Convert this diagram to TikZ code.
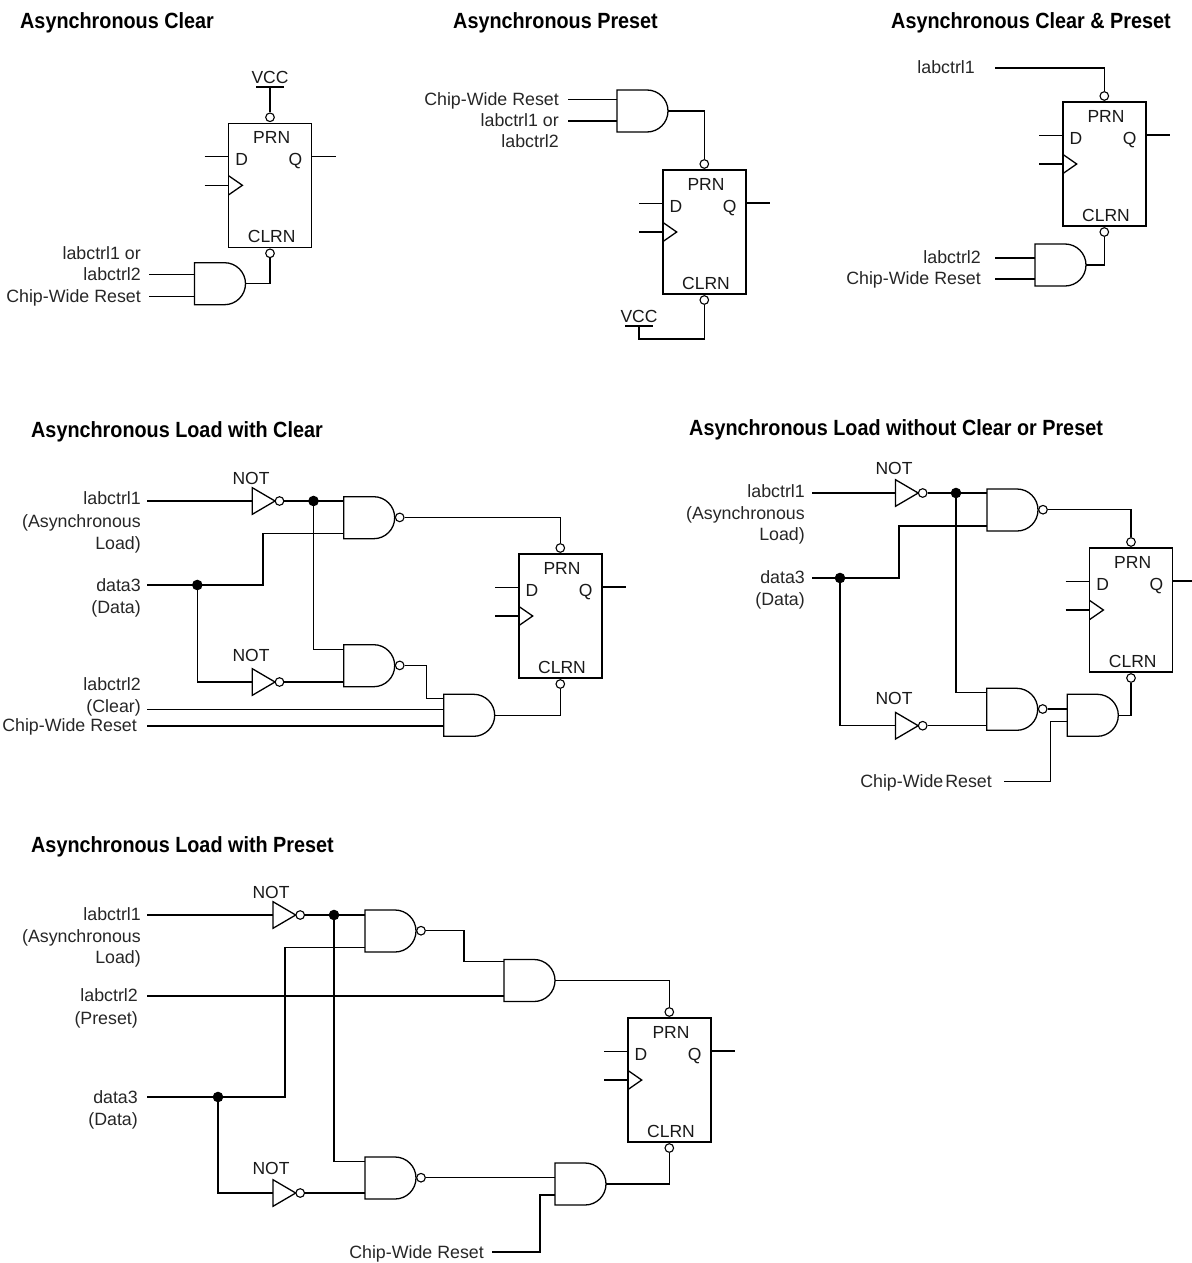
\documentclass[tikz,border=0pt]{standalone}
\usepackage{fontspec}
\setmainfont{Liberation Sans}
\newfontfamily\ttlfont[FakeStretch=0.9]{Liberation Sans}
\tikzset{
  wire/.style={draw=black,line width=1.3pt,line join=miter},
  bub/.style={circle,draw=black,fill=white,line width=1.1pt,minimum size=8.6pt,inner sep=0pt},
  jdot/.style={circle,fill=black,minimum size=10.6pt,inner sep=0pt},
  lab/.style={anchor=east,inner sep=0pt,yshift=-1.5pt,font=\fontsize{17.8}{20}\selectfont,text height=12pt,text depth=3.5pt,text=black!85},
  cen/.style={inner sep=0pt,font=\fontsize{17.5}{20}\selectfont,text height=12pt,text depth=0pt,text=black!90},
  ttl/.style={anchor=west,inner sep=0pt,font=\ttlfont\bfseries\fontsize{22}{26}\selectfont},
  andgate/.pic={
    \draw[wire] (0,0) -- (30,0) .. controls (41.6,0) and (51,9.4) .. (51,21)
       .. controls (51,32.6) and (41.6,42) .. (30,42) -- (0,42) -- cycle;
    \coordinate (-out) at (51,21);
  },
  nandgate/.pic={
    \draw[wire] (0,0) -- (30,0) .. controls (41.6,0) and (51,9.4) .. (51,21)
       .. controls (51,32.6) and (41.6,42) .. (30,42) -- (0,42) -- cycle;
    \node[bub] (-b) at (56,20.7) {};
  },
  notgate/.pic={
    \draw[wire] (0,-13.3) -- (22.7,0) -- (0,13.3) -- cycle;
    \node[bub] (-b) at (27.2,0) {};
    \coordinate (-in) at (0,0);
  },
  dff/.pic={
    \draw[wire] (0,0) rectangle (83,124);
    \node[bub] (-pb) at (41.3,-6) {};
    \node[bub] (-cb) at (41.3,130) {};
    \node[cen] (-prn) at (43,14) {PRN};
    \node[cen] (-d) at (13,36.3) {D};
    \node[cen] (-q) at (66.7,36.3) {Q};
    \node[cen] (-clrn) at (43,113) {CLRN};
    \coordinate (-dfree) at (-24,33.5);
    \coordinate (-d0) at (0,33.5);
    \coordinate (-kfree) at (-24,62);
    \coordinate (-k0) at (0,62);
    \coordinate (-qfree) at (107,33);
    \coordinate (-q0) at (83,33);
    \draw[wire] (-dfree) -- (-d0);
    \draw[wire] (-kfree) -- (-k0);
    \draw[wire] (-q0) -- (-qfree);
    \draw[wire] (0,52.5) -- (13.7,62) -- (0,71.5);
  },
}
\begin{document}
\begin{tikzpicture}[x=1pt,y=-1pt]
\useasboundingbox (0,0) rectangle (1191,1263);
% ---------- titles
\node[ttl] (t1) at (20,23) {Asynchronous Clear};
\node[ttl] (t2) at (453,23) {Asynchronous Preset};
\node[ttl] (t3) at (891,23) {Asynchronous Clear \& Preset};
\node[ttl] (t4) at (31,431.5) {Asynchronous Load with Clear};
\node[ttl] (t5) at (689,429.5) {Asynchronous Load without Clear or Preset};
\node[ttl] (t6) at (31,846.5) {Asynchronous Load with Preset};

% ---------- panel 1
\pic (a) at (228.7,123.3) {dff};
\pic (ag) at (194.5,262.7) {andgate};
\node[cen] (avcc) at (270,77) {VCC};
\coordinate (avl) at (256,87); \coordinate (avr) at (284,87); \coordinate (avm) at (270,87);
\draw[wire] (avl) -- (avr);
\draw[wire] (avm) -- (a-pb.north);
\draw[wire] (ag-out) -| (a-cb.south);
\node[lab] (al1) at (141,254) {labctrl1 or};
\node[lab] (al2) at (141,275) {labctrl2};
\node[lab] (al3) at (141,296.5) {Chip-Wide Reset};
\coordinate (ai1) at (149,274.7); \coordinate (ai1e) at (194.5,274.7);
\coordinate (ai2) at (149,296.3); \coordinate (ai2e) at (194.5,296.3);
\draw[wire] (ai1) -- (ai1e);
\draw[wire] (ai2) -- (ai2e);

% ---------- panel 2
\pic (b) at (663,170) {dff};
\pic (bg) at (617,90) {andgate};
\node[lab] (bl1) at (559,99.5) {Chip-Wide Reset};
\node[lab] (bl2) at (559,120.5) {labctrl1 or};
\node[lab] (bl3) at (559,141.5) {labctrl2};
\coordinate (bi1) at (568,99.5); \coordinate (bi1e) at (617,99.5);
\coordinate (bi2) at (568,121); \coordinate (bi2e) at (617,121);
\draw[wire] (bi1) -- (bi1e);
\draw[wire] (bi2) -- (bi2e);
\draw[wire] (bg-out) -| (b-pb.north);
\node[cen] (bvcc) at (639,316) {VCC};
\coordinate (bvl) at (625,326); \coordinate (bvr) at (653,326); \coordinate (bvm) at (639,326);
\coordinate (bvb) at (639,339);
\draw[wire] (bvl) -- (bvr);
\draw[wire] (b-cb.south) |- (bvb) -- (bvm);

% ---------- panel 3
\pic (c) at (1063,102) {dff};
\pic (cg) at (1035,244) {andgate};
\node[lab] (cl1) at (975,68) {labctrl1};
\coordinate (cf) at (995,68);
\draw[wire] (cf) -| (c-pb.north);
\node[lab] (cl2) at (981,258) {labctrl2};
\node[lab] (cl3) at (981,278.5) {Chip-Wide Reset};
\coordinate (ci1) at (995,258); \coordinate (ci1e) at (1035,258);
\coordinate (ci2) at (995,279); \coordinate (ci2e) at (1035,279);
\draw[wire] (ci1) -- (ci1e);
\draw[wire] (ci2) -- (ci2e);
\draw[wire] (cg-out) -| (c-cb.south);

% ---------- panel 4
\pic (d) at (519,554) {dff};
\pic (dn1) at (343.7,496.7) {nandgate};
\pic (dn2) at (343.7,644.7) {nandgate};
\pic (da) at (443.7,694.3) {andgate};
\pic (dk1) at (252.3,501) {notgate};
\pic (dk2) at (252.3,682) {notgate};
\node[cen] (dt1) at (251,478) {NOT};
\node[cen] (dt2) at (251,655) {NOT};
\node[lab] (dl1) at (141,499) {labctrl1};
\node[lab] (dl2) at (141,522) {(Asynchronous};
\node[lab] (dl3) at (141,544) {Load)};
\node[lab] (dl4) at (141,586) {data3};
\node[lab] (dl5) at (141,608) {(Data)};
\node[lab] (dl6) at (141,685) {labctrl2};
\node[lab] (dl7) at (141,707) {(Clear)};
\node[lab] (dl8) at (137,726) {Chip-Wide Reset};
\coordinate (df1) at (147,501);
\coordinate (df2) at (147,585);
\coordinate (df3) at (147,709.3);
\coordinate (df4) at (147,726);
\coordinate (dn1a) at (343.7,501);
\coordinate (dn1c) at (343.7,533.7);
\coordinate (dn2a) at (343.7,649.3);
\coordinate (dn2c) at (343.7,682);
\coordinate (dp1) at (426.5,698.3);
\coordinate (daa) at (443.7,698.3);
\coordinate (dab) at (443.7,709.3);
\coordinate (dac) at (443.7,726);
\coordinate (dv) at (263,533.7);
\coordinate (dh) at (263,585);
\coordinate (dq) at (426.5,665.4);
\node[jdot] (dj1) at (313.5,501) {};
\node[jdot] (dj2) at (197.3,585) {};
\draw[wire] (df1) -- (dk1-in);
\draw[wire] (dk1-b.east) -- (dn1a);
\draw[wire] (df2) -- (dh) -- (dv) -- (dn1c);
\draw[wire] (dj2.center) |- (dk2-in);
\draw[wire] (dk2-b.east) -- (dn2c);
\draw[wire] (dj1.center) |- (dn2a);
\draw[wire] (dn1-b.east) -| (d-pb.north);
\draw[wire] (dn2-b.east) -- (dq) -- (dp1) -- (daa);
\draw[wire] (df3) -- (dab);
\draw[wire] (df4) -- (dac);
\draw[wire] (da-out) -| (d-cb.south);

% ---------- panel 5
\pic (e) at (1089.7,548) {dff};
\pic (en1) at (987,489) {nandgate};
\pic (en2) at (986.7,688.3) {nandgate};
\pic (ea) at (1067.3,694.3) {andgate};
\pic (ek1) at (895.5,493) {notgate};
\pic (ek2) at (895.5,725.7) {notgate};
\node[cen] (et1) at (894,468) {NOT};
\node[cen] (et2) at (894,698) {NOT};
\node[lab] (el1) at (805,492) {labctrl1};
\node[lab] (el2) at (805,514) {(Asynchronous};
\node[lab] (el3) at (805,535) {Load)};
\node[lab] (el4) at (805,578) {data3};
\node[lab] (el5) at (805,600) {(Data)};
\node[lab] (el6) at (992,781.5) {Chip-Wide\kern-3pt\ Reset};
\coordinate (ef1) at (812,493);
\coordinate (ef2) at (812,578);
\coordinate (ef3) at (1004,781.7);
\coordinate (en1a) at (987,493);
\coordinate (en1c) at (987,526);
\coordinate (en2a) at (986.7,692.7);
\coordinate (en2c) at (986.7,725.7);
\coordinate (eh) at (899,578);
\coordinate (ev) at (899,526);
\coordinate (eaa) at (1067.3,709);
\coordinate (eab) at (1067.3,721.7);
\coordinate (es) at (1050.7,721.7);
\coordinate (est) at (1050.7,781.7);
\node[jdot] (ej1) at (956,493) {};
\node[jdot] (ej2) at (840,578) {};
\draw[wire] (ef1) -- (ek1-in);
\draw[wire] (ek1-b.east) -- (en1a);
\draw[wire] (ef2) -- (eh) -- (ev) -- (en1c);
\draw[wire] (ej2.center) |- (ek2-in);
\draw[wire] (ek2-b.east) -- (en2c);
\draw[wire] (ej1.center) |- (en2a);
\draw[wire] (en1-b.east) -| (e-pb.north);
\draw[wire] (en2-b.east) -- (eaa);
\draw[wire] (ef3) -- (est) -- (es) -- (eab);
\draw[wire] (ea-out) -| (e-cb.south);

% ---------- panel 6
\pic (f) at (628,1018) {dff};
\pic (fn1) at (365,910) {nandgate};
\pic (fn2) at (365,1157) {nandgate};
\pic (fa1) at (504,959.5) {andgate};
\pic (fa2) at (555,1163) {andgate};
\pic (fk1) at (273,915) {notgate};
\pic (fk2) at (273,1193) {notgate};
\node[cen] (ft1) at (271,892) {NOT};
\node[cen] (ft2) at (271,1168) {NOT};
\node[lab] (fl1) at (141,915) {labctrl1};
\node[lab] (fl2) at (141,937) {(Asynchronous};
\node[lab] (fl3) at (141,958) {Load)};
\node[lab] (fl4) at (138,996) {labctrl2};
\node[lab] (fl5) at (138,1019) {(Preset)};
\node[lab] (fl6) at (138,1098) {data3};
\node[lab] (fl7) at (138,1120) {(Data)};
\node[lab] (fl8) at (484,1253) {Chip-Wide Reset};
\coordinate (ff1) at (147,915);
\coordinate (ff2) at (147,996);
\coordinate (ff3) at (147,1097);
\coordinate (ff4) at (492,1252);
\coordinate (fn1a) at (365,915);
\coordinate (fn1c) at (365,947.5);
\coordinate (fn2a) at (365,1161.5);
\coordinate (fn2c) at (365,1193);
\coordinate (fa1a) at (504,961.5);
\coordinate (fa1b) at (504,996);
\coordinate (fa2a) at (555,1177.7);
\coordinate (fa2b) at (555,1195);
\coordinate (fs1) at (464,930.7);
\coordinate (fs2) at (464,961.5);
\coordinate (fv1) at (285,1097);
\coordinate (fv2) at (285,947.5);
\coordinate (fc1) at (540,1252);
\coordinate (fc2) at (540,1195);
\node[jdot] (fj1) at (334,915) {};
\node[jdot] (fj2) at (218,1097) {};
\draw[wire] (ff1) -- (fk1-in);
\draw[wire] (fk1-b.east) -- (fn1a);
\draw[wire] (ff3) -- (fv1) -- (fv2) -- (fn1c);
\draw[wire] (fj2.center) |- (fk2-in);
\draw[wire] (fk2-b.east) -- (fn2c);
\draw[wire] (fj1.center) |- (fn2a);
\draw[wire] (fn1-b.east) -- (fs1) -- (fs2) -- (fa1a);
\draw[wire] (ff2) -- (fa1b);
\draw[wire] (fn2-b.east) -- (fa2a);
\draw[wire] (ff4) -- (fc1) -- (fc2) -- (fa2b);
\draw[wire] (fa1-out) -| (f-pb.north);
\draw[wire] (fa2-out) -| (f-cb.south);
\end{tikzpicture}
\end{document}
